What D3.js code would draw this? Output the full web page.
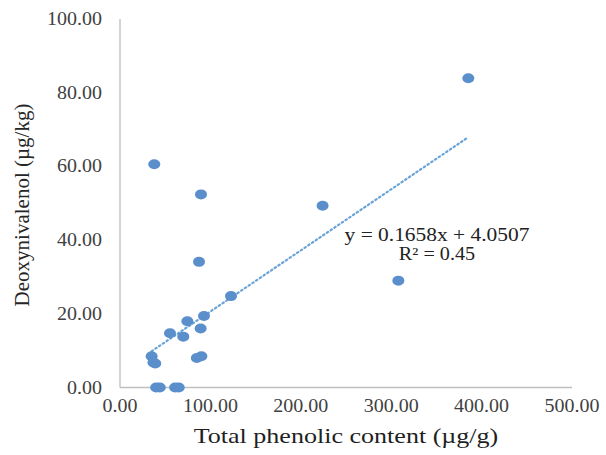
<!DOCTYPE html>
<html><head><meta charset="utf-8">
<script src="https://cdn.jsdelivr.net/npm/d3@7"></script>
<style>body{margin:0;background:#fff}svg{display:block}</style>
</head><body>
<svg id="c" width="606" height="455"></svg>
<script>
const phenolic = [385.3, 224.1, 307.9, 37.9, 89.6, 87.4, 122.8, 92.9, 74.5, 89.2, 55.3, 70.0, 35, 37, 39, 85, 90, 40, 44, 61, 65];
const don      = [83.9, 49.3, 29.0, 60.6, 52.4, 34.1, 24.8, 19.4, 18.0, 16.0, 14.7, 13.8, 8.5, 6.8, 6.5, 8.0, 8.5, 0, 0, 0, 0];
const xTicks = [0, 100, 200, 300, 400, 500];
const yTicks = [0, 20, 40, 60, 80, 100];
const slope = 0.1658, intercept = 4.0507;
const eqText = "y = 0.1658x + 4.0507";
const r2Text = "R² = 0.45";
const xTitle = "Total phenolic content (µg/g)";
const yTitle = "Deoxynivalenol (µg/kg)";

const svg = d3.select("#c");
const x = d3.scaleLinear().domain([0, 500]).range([120, 572]);
const y = d3.scaleLinear().domain([0, 100]).range([387.5, 19]);
const font = "'Liberation Serif', 'Times New Roman', serif";

function stretch(sel, k) {
  sel.each(function () {
    const len = this.getComputedTextLength();
    d3.select(this).attr("textLength", len * k).attr("lengthAdjust", "spacingAndGlyphs");
  });
}

// axes lines
svg.append("line").attr("x1", x(0)).attr("x2", x(500)).attr("y1", y(0)).attr("y2", y(0))
  .attr("stroke", "#bfbfbf").attr("stroke-width", 1.3);
svg.append("line").attr("x1", x(0)).attr("x2", x(0)).attr("y1", y(0)).attr("y2", y(100))
  .attr("stroke", "#bfbfbf").attr("stroke-width", 1.3);

// tick labels
const xt = svg.selectAll(".xt").data(xTicks).enter().append("text")
  .attr("x", d => x(d)).attr("y", 411.5)
  .attr("text-anchor", "middle").attr("font-family", font).attr("font-size", 18)
  .attr("fill", "#404040").text(d => d.toFixed(2));
stretch(xt, 1.11);
const yt = svg.selectAll(".yt").data(yTicks).enter().append("text")
  .attr("x", 102).attr("y", d => y(d) + 6)
  .attr("text-anchor", "end").attr("font-family", font).attr("font-size", 18)
  .attr("fill", "#404040").text(d => d.toFixed(2));
stretch(yt, 1.11);

// titles
const xtl = svg.append("text").attr("x", 346).attr("y", 443).attr("text-anchor", "middle")
  .attr("font-family", font).attr("font-size", 21).attr("fill", "#1f1f1f")
  .text(xTitle);
stretch(xtl, 1.24);
svg.append("text").attr("transform", "translate(29,205) rotate(-90)").attr("text-anchor", "middle")
  .attr("font-family", font).attr("font-size", 21).attr("fill", "#262626")
  .text(yTitle);

// trendline
const xmin = d3.min(phenolic), xmax = d3.max(phenolic);
svg.append("line").attr("x1", x(xmin)).attr("y1", y(slope * xmin + intercept))
  .attr("x2", x(xmax)).attr("y2", y(slope * xmax + intercept))
  .attr("stroke", "#6aa3d8").attr("stroke-width", 2.2)
  .attr("stroke-dasharray", "1.5 3").attr("stroke-linecap", "round");

// points
const pts = phenolic.map((v, i) => ({ px: v, py: don[i] }));
svg.selectAll(".pt").data(pts).enter().append("ellipse")
  .attr("cx", d => x(d.px)).attr("cy", d => y(d.py))
  .attr("rx", 6).attr("ry", 5).attr("fill", "#5b8fcc");

// equation
const eq = svg.append("text").attr("x", 437).attr("y", 241).attr("text-anchor", "middle")
  .attr("font-family", font).attr("font-size", 18).attr("fill", "#222").text(eqText);
stretch(eq, 1.19);
const r2 = svg.append("text").attr("x", 437).attr("y", 260).attr("text-anchor", "middle")
  .attr("font-family", font).attr("font-size", 18).attr("fill", "#222").text(r2Text);
stretch(r2, 1.12);
</script>
</body></html>
